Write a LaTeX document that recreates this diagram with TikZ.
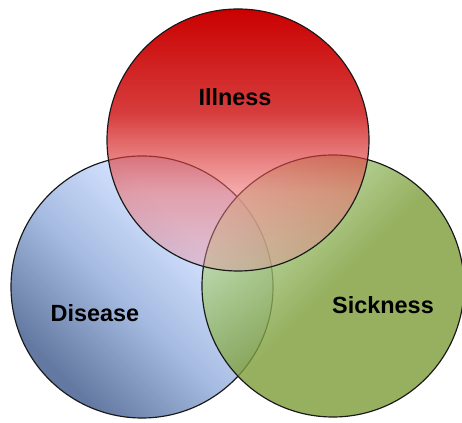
\documentclass[tikz,border=0pt]{standalone}
\usepackage{fontspec}
\setmainfont{Liberation Sans}
\usetikzlibrary{positioning,fadings}
\definecolor{illred}{RGB}{202, 0, 0}
\definecolor{illpink}{RGB}{236, 110, 110}
\definecolor{illpale}{RGB}{232, 150, 165}
\definecolor{disdark}{RGB}{72, 98, 145}
\definecolor{dismid}{RGB}{150, 175, 220}
\definecolor{dislight}{RGB}{205, 222, 255}
\definecolor{sickdark}{RGB}{124, 156, 56}
\definecolor{sickmid}{RGB}{160, 196, 120}
\definecolor{sicklight}{RGB}{196, 222, 178}

% colour runs, bottom to top (the circle covers 25bp--75bp)
\pgfdeclareverticalshading{illshade}{100bp}{color(0bp)=(illpale); color(25bp)=(illpale);
    color(40bp)=(illpink); color(55bp)=(illred); color(100bp)=(illred)}
\pgfdeclareverticalshading{disshade}{100bp}{color(0bp)=(disdark); color(27bp)=(disdark);
    color(46bp)=(dismid); color(64bp)=(dislight); color(100bp)=(dislight)}
\pgfdeclareverticalshading{sickshade}{100bp}{color(0bp)=(sickdark); color(50bp)=(sickdark);
    color(64bp)=(sickmid); color(75bp)=(sicklight); color(100bp)=(sicklight)}
% red gets clearer towards its foot
\tikzfading[name=illfade, top color=transparent!0, middle color=transparent!5,
    bottom color=transparent!60]

\begin{document}
\begin{tikzpicture}[x=0.03cm, y=0.03cm,
        venn/.style={circle, draw=black!90, line width=1pt, inner sep=0pt,
                    minimum size=7.86cm, fill opacity=0.85},
        rim/.style={draw=black!90, line width=1pt},
        lbl/.style={font=\fontsize{20}{24}\selectfont\bfseries, text=black}
    ]
    \useasboundingbox (0,0) rectangle (462,423);

    % Bottom circles
    \node[venn, shading=disshade, shading angle=-45] (disease) at (142, 136) {};
    \node[venn, shading=sickshade, shading angle=45, fill opacity=0.8] (sickness) at (333, 137) {};

    % Top circle, faded fill and a solid rim
    \node[venn, draw=none, shading=illshade, fill opacity=1, path fading=illfade] (illness) at (238, 283) {};
    \draw[rim] (illness.center) circle[radius=131];

    % Labels
    \node[lbl] (illnesslbl)  at (235, 326) {Illness};
    \node[lbl] (diseaselbl)  at (95, 110)  {Disease};
    \node[lbl] (sicknesslbl) at (383, 118) {Sickness};

\end{tikzpicture}
\end{document}
